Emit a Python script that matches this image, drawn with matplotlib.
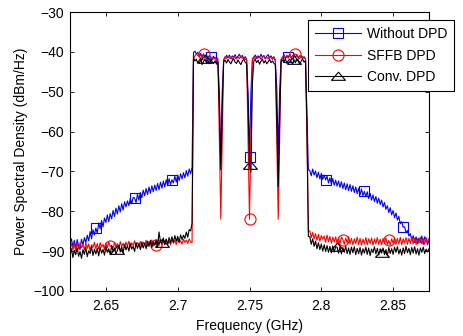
import numpy as np
import matplotlib
matplotlib.use("Agg")
import matplotlib.pyplot as plt

plt.rcParams['font.family'] = ['Liberation Sans', 'DejaVu Sans']
plt.rcParams['font.size'] = 10

freq_start, freq_step = 2.625, 0.001

psd_without = [
    -88.4, -86.9, -88.9, -87.3, -89.2, -87.1, -88.7, -89.6, -87.0, -88.5,
    -86.6, -87.9, -86.0, -87.4, -85.1, -86.9, -84.6, -85.9, -84.2, -85.5,
    -82.9, -84.4, -82.3, -83.9, -81.7, -82.8, -80.9, -82.6, -80.6, -81.9,
    -79.8, -81.3, -79.2, -80.7, -78.6, -80.2, -78.1, -79.7, -77.6, -78.9,
    -77.4, -78.6, -76.8, -78.1, -76.5, -76.7, -77.8, -75.7, -77.2, -75.3,
    -76.6, -74.7, -76.1, -74.3, -75.8, -73.9, -75.5, -73.6, -75.1, -73.4,
    -74.8, -73.0, -74.6, -72.7, -74.2, -72.4, -73.9, -72.1, -73.6, -71.8,
    -73.3, -72.1, -72.9, -71.2, -72.7, -70.9, -72.3, -70.6, -71.9, -70.3,
    -71.6, -69.8, -71.2, -69.4, -70.6, -69.0,
    -40.2, -39.8, -40.6, -40.1, -41.0, -40.4, -41.2, -40.5, -41.4, -40.7,
    -41.6, -40.9, -41.3, -42.0, -41.1, -41.8, -41.2, -42.5, -50.0, -68.0,
    -50.0, -42.0, -41.6, -40.9, -41.5, -40.8, -41.7, -41.0, -41.4, -40.7,
    -41.6, -41.1, -40.6, -41.5, -40.9, -41.8, -41.2, -41.9, -50.5, -66.3,
    -50.0, -42.2, -41.3, -40.8, -41.7, -41.0, -41.5, -40.6, -41.4, -40.9,
    -41.8, -41.1, -40.7, -41.6, -41.0, -41.7, -41.2, -42.4, -49.0, -65.8,
    -49.5, -42.0, -41.4, -40.7, -41.6, -40.9, -41.3, -40.6, -41.5, -41.0,
    -40.5, -41.4, -40.8, -41.6, -41.1, -40.9, -41.7, -41.2, -41.8, -56.0, -69.6,
    -69.8, -71.1, -69.4, -70.9, -69.9, -71.6, -70.2, -71.9, -70.5, -72.0,
    -70.9, -72.1, -71.2, -72.9, -71.6, -73.2, -71.8, -73.5, -72.2, -73.7,
    -72.4, -74.0, -72.6, -74.3, -72.9, -74.6, -73.1, -74.8, -73.3, -75.0,
    -73.6, -75.3, -73.9, -75.6, -74.2, -75.9, -74.4, -76.1, -75.0, -76.3,
    -75.1, -76.8, -75.5, -77.2, -75.9, -77.6, -76.3, -78.0, -76.7, -78.3,
    -77.2, -78.9, -77.8, -79.5, -78.6, -80.3, -79.1, -80.9, -79.8, -81.6,
    -80.4, -82.2, -81.3, -83.1, -82.6, -84.0, -83.9, -85.4, -84.8, -86.2,
    -85.6, -87.3, -86.1, -87.8, -86.4, -88.1, -86.7, -87.9, -86.2, -88.3,
    -86.4, -87.1, -88.4, -87.3,
]

psd_sffb = [
    -89.4, -88.1, -89.7, -88.3, -89.9, -88.0, -89.5, -87.9, -89.2, -88.4,
    -89.6, -88.0, -89.3, -88.2, -89.8, -88.4, -89.1, -87.8, -89.4, -88.1,
    -89.5, -87.9, -89.0, -88.3, -89.6, -88.0, -89.2, -87.7, -88.8, -88.6,
    -89.3, -87.8, -88.9, -88.1, -89.4, -87.6, -88.8, -88.0, -89.1, -87.7,
    -88.7, -87.5, -89.0, -87.9, -88.6, -87.4, -88.9, -87.8, -88.5, -87.6,
    -89.0, -87.7, -88.4, -87.3, -88.8, -87.6, -88.3, -87.2, -88.7, -87.9,
    -88.4, -87.4, -88.6, -87.2, -88.5, -87.6, -88.3, -87.0, -88.2, -87.5,
    -88.4, -87.1, -88.0, -87.3, -88.3, -86.9, -87.9, -87.4, -88.2, -87.0,
    -87.8, -87.2, -88.1, -86.9, -87.7, -87.9,
    -41.8, -41.0, -40.6, -40.9, -41.3, -40.8, -41.6, -40.5, -41.7, -41.0,
    -41.9, -41.4, -42.0, -41.3, -41.8, -41.5, -42.1, -41.6, -62.0, -82.0,
    -62.0, -41.9, -41.2, -41.7, -41.0, -41.6, -41.3, -41.9, -41.1, -41.5,
    -41.8, -41.2, -41.7, -41.0, -41.6, -41.4, -42.0, -41.8, -62.0, -82.0,
    -62.0, -41.7, -41.3, -41.8, -41.1, -41.6, -41.2, -41.9, -41.4, -41.0,
    -41.7, -41.3, -41.8, -41.1, -41.5, -41.9, -41.4, -42.0, -62.0, -82.0,
    -62.0, -41.8, -41.4, -41.0, -41.7, -41.2, -41.6, -40.9, -41.3, -41.1,
    -40.8, -40.6, -40.7, -41.4, -41.0, -41.6, -41.2, -41.5, -41.8, -62.0, -85.0,
    -84.9, -86.6, -85.3, -86.9, -85.6, -87.3, -85.8, -87.5, -86.1, -87.0,
    -86.2, -87.8, -86.0, -87.6, -86.3, -88.0, -86.5, -87.7, -86.4, -88.1,
    -86.6, -88.2, -86.5, -87.1, -88.3, -86.7, -88.0, -86.4, -88.2, -86.8,
    -88.4, -86.9, -88.1, -86.5, -88.3, -86.8, -88.5, -87.0, -88.2, -86.6,
    -88.4, -86.9, -88.1, -86.7, -88.5, -86.9, -88.2, -86.6, -88.3, -87.0,
    -88.4, -86.8, -88.1, -86.7, -88.3, -87.3, -88.5, -86.9, -88.0, -86.6,
    -88.3, -86.8, -88.2, -86.5, -88.4, -86.9, -88.0, -86.6, -88.3, -86.8,
    -88.1, -86.4, -88.2, -86.7, -88.4, -86.9, -88.0, -86.5, -88.2, -86.8,
    -88.3, -86.6, -87.9, -86.8,
]

psd_conv = [
    -91.0, -89.4, -91.6, -89.8, -90.9, -89.2, -91.3, -90.1, -91.8, -89.6,
    -90.8, -89.1, -91.4, -89.9, -90.6, -88.9, -91.1, -89.5, -90.7, -89.3,
    -91.2, -89.0, -90.5, -89.6, -91.0, -88.8, -90.3, -89.4, -90.9, -88.6,
    -90.1, -89.2, -90.7, -89.8, -88.5, -90.2, -88.9, -90.4, -88.3, -89.7,
    -88.6, -90.0, -88.1, -89.5, -88.8, -90.1, -87.9, -89.3, -88.2, -89.6,
    -87.7, -89.2, -88.0, -89.4, -87.5, -88.8, -87.3, -89.1, -87.6, -88.5,
    -87.2, -88.9, -85.2, -87.6, -88.0, -86.7, -88.4, -87.0, -88.3, -86.6,
    -87.9, -86.4, -87.8, -86.1, -87.5, -86.3, -87.7, -85.9, -87.1, -86.0,
    -86.8, -85.2, -86.5, -84.6, -84.9, -83.0,
    -41.5, -42.3, -41.8, -42.9, -42.1, -41.6, -43.2, -42.4, -41.9, -42.7,
    -42.0, -43.0, -41.8, -42.5, -42.9, -42.2, -43.1, -42.6, -54.0, -69.6,
    -54.0, -42.4, -42.1, -42.8, -41.9, -42.5, -43.0, -42.2, -41.7, -42.6,
    -42.9, -42.0, -42.7, -43.2, -42.3, -41.8, -42.6, -43.0, -53.0, -68.5,
    -70.2, -48.0, -42.3, -41.9, -42.7, -42.1, -43.1, -42.4, -41.8, -42.8,
    -42.2, -43.0, -42.5, -41.9, -42.7, -42.3, -42.9, -43.2, -57.0, -73.8,
    -57.0, -42.5, -42.0, -42.6, -41.7, -42.9, -42.2, -41.8, -42.5, -43.0,
    -42.1, -42.7, -41.9, -42.4, -43.1, -42.3, -41.8, -42.6, -42.2, -58.0, -86.3,
    -86.4, -88.3, -86.9, -88.8, -87.5, -89.4, -87.9, -89.6, -88.2, -90.0,
    -88.4, -90.1, -88.6, -90.3, -88.8, -90.4, -88.7, -90.2, -88.9, -89.0,
    -90.5, -88.9, -90.7, -89.1, -90.3, -88.8, -90.6, -89.2, -90.8, -89.0,
    -90.4, -88.9, -90.9, -89.3, -90.6, -89.1, -91.0, -89.4, -90.5, -89.0,
    -90.8, -89.2, -91.1, -89.5, -90.4, -88.9, -90.7, -89.3, -91.0, -89.4,
    -90.5, -89.2, -90.9, -89.6, -91.2, -89.1, -90.6, -89.4, -90.8, -89.0,
    -90.3, -88.9, -90.7, -89.5, -91.0, -89.2, -90.6, -88.8, -90.4, -89.3,
    -90.9, -89.1, -90.5, -88.9, -90.7, -89.4, -91.0, -89.2, -90.3, -89.0,
    -90.6, -89.5, -90.2, -89.4,
]

# frequencies (GHz) where the markers sit on each trace
mark_without = [2.643, 2.670, 2.696, 2.723, 2.750, 2.777, 2.803, 2.830, 2.857]
mark_sffb = [2.653, 2.685, 2.718, 2.750, 2.782, 2.815, 2.847]
mark_conv = [2.658, 2.689, 2.719, 2.750, 2.781, 2.811, 2.842]

labels = ["Without DPD", "SFFB DPD", "Conv. DPD"]
xticks = [2.65, 2.70, 2.75, 2.80, 2.85]
xtick_labels = ["2.65", "2.7", "2.75", "2.8", "2.85"]
yticks = [-100, -90, -80, -70, -60, -50, -40, -30]

assert len(psd_without) == len(psd_sffb) == len(psd_conv) == 251

freq = freq_start + freq_step * np.arange(len(psd_without))


def _mark_idx(marks):
    return [int(np.argmin(np.abs(freq - f))) for f in marks]


# MATLAB-style triangle: wider than tall
tri = [(-1, -0.55), (1, -0.55), (0, 0.62), (-1, -0.55)]

fig = plt.figure(figsize=(4.64, 3.36), dpi=100)
ax = fig.add_axes([70 / 464, 1 - 291 / 336, 359 / 464, 279 / 336])

series = [
    (psd_without, mark_without, "#0000ff", "s", 7),
    (psd_sffb, mark_sffb, "#ff0000", "o", 8),
    (psd_conv, mark_conv, "#000000", tri, 10),
]
handles = []
for vals, marks, color, marker, ms in series:
    h, = ax.plot(freq, vals, color=color, lw=0.8, marker=marker, ms=ms,
                 markevery=_mark_idx(marks), markerfacecolor="none",
                 markeredgecolor=color, markeredgewidth=0.8)
    handles.append(h)

ax.set_xlim(2.625, 2.875)
ax.set_ylim(-100, -30)
ax.set_xticks(xticks)
ax.set_xticklabels(xtick_labels)
ax.set_yticks(yticks)
ax.tick_params(direction="in", top=True, right=True, length=3, width=0.6,
               labelsize=10, pad=4)
ax.tick_params(axis="x", pad=6)
for sp in ax.spines.values():
    sp.set_linewidth(0.8)
ax.set_xlabel("Frequency (GHz)", fontsize=10, labelpad=4)
ax.set_ylabel("Power Spectral Density (dBm/Hz)", fontsize=10, labelpad=4)

leg = fig.legend(handles, labels, loc="upper left",
                 bbox_to_anchor=(308 / 464, 1 - 20 / 336), borderaxespad=0,
                 fancybox=False, edgecolor="black", framealpha=1,
                 handlelength=3.3, handletextpad=0.45, labelspacing=0.55,
                 borderpad=0.5, fontsize=10)
leg.get_frame().set_linewidth(0.8)

fig.savefig("out.png", dpi=100)
